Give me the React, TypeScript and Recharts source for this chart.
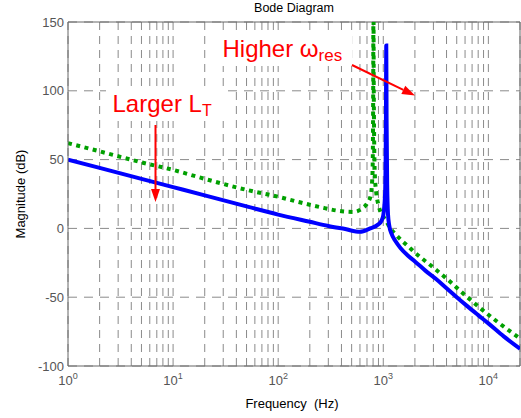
import React from 'react';
import { LineChart, Line, XAxis, YAxis, CartesianGrid, ReferenceLine } from 'recharts';

// frequency axis: decades get a 10^n label, every multiple gets a grid line
const decades = [1, 10, 100, 1000, 10000];
const fMax = 20000;
const gridFreqs = decades
  .flatMap((d) => [1, 2, 3, 4, 5, 6, 7, 8, 9].map((m) => m * d))
  .filter((f) => f <= fMax);

const magTicks = [-100, -50, 0, 50, 100, 150];

// smaller L_T (solid blue)
const blueFreq = [1, 2, 5, 10, 20, 50, 100, 200, 300, 435, 600, 750, 900, 960, 1000, 1040, 1060, 1068, 1075, 1090, 1110, 1140, 1200, 1300, 1450, 1700, 2000, 2500, 3200, 4000, 5000, 6300, 8000, 10000, 14000, 20000];
const blueMag = [50, 44, 36, 30, 24, 16, 10, 4.8, 1.8, -0.5, -2.5, 0, 3, 5.5, 9.5, 25, 80, 133, 80, 30, 10, 2, -4, -9, -14, -19.5, -24, -30.5, -37, -43.5, -50, -56.5, -63, -69, -78.5, -87.5];

// larger L_T (dotted green), resonance runs off the top
const greenFreq = [1, 2, 5, 10, 20, 50, 100, 160, 250, 400, 520, 630, 700, 760, 790, 802, 806, 812, 830, 860, 896, 955, 1045, 1166, 1300, 1480, 1700, 1930, 3000, 4074, 6000, 8393, 12000, 20000];
const greenMag = [62, 56, 48, 42.5, 36, 28, 23, 19, 15.5, 12.5, 12, 14.5, 18, 24, 40, 100, 175, 100, 40, 25, 17.5, 11, 6.5, 0, -4, -8.5, -12.5, -16.5, -28.5, -37, -48.5, -58, -67.5, -80];

const blueData = blueFreq.map((f, i) => ({ f, mag: blueMag[i] }));
const greenData = greenFreq.map((f, i) => ({ f, mag: greenMag[i] }));

const FONT = '"Liberation Sans", Arial, Helvetica, sans-serif';
const GRID = '#8a8a8a';
const AXIS = '#666';

function DecadeTick(props: any) {
  const { x, y, payload } = props;
  const v = payload.value;
  const n = Math.round(Math.log10(v));
  if (Math.abs(Math.pow(10, n) - v) > 1e-6) return null;
  return (
    <text x={x} y={y + 19} textAnchor="middle" fill="#555" fontSize={13} fontFamily={FONT}>
      <tspan>10</tspan>
      <tspan dy={-6} fontSize={9}>{n}</tspan>
    </text>
  );
}

function Arrow({ x1, y1, x2, y2 }: { x1: number; y1: number; x2: number; y2: number }) {
  const dx = x2 - x1;
  const dy = y2 - y1;
  const len = Math.hypot(dx, dy);
  const ux = dx / len;
  const uy = dy / len;
  const head = 13;
  const half = 4.5;
  const bx = x2 - ux * head;
  const by = y2 - uy * head;
  return (
    <g>
      <line x1={x1} y1={y1} x2={bx} y2={by} stroke="#ff0000" strokeWidth={2} />
      <polygon
        points={`${x2},${y2} ${bx - uy * half},${by + ux * half} ${bx + uy * half},${by - ux * half}`}
        fill="#ff0000"
      />
    </g>
  );
}

export default function App() {
  return (
    <div style={{ position: 'absolute', left: 0, top: 0, width: 521, height: 418, background: '#fff' }}>
      <LineChart width={521} height={418} margin={{ top: 22, right: 1, bottom: 0, left: 0 }}>
        <CartesianGrid stroke={GRID} strokeDasharray="8 6" horizontal={false} />
        <CartesianGrid stroke={GRID} strokeDasharray="9 7" vertical={false} />
        <XAxis
          type="number"
          dataKey="f"
          scale="log"
          domain={[1, fMax]}
          allowDataOverflow
          ticks={gridFreqs}
          interval={0}
          height={52}
          tick={<DecadeTick />}
          tickLine={false}
          tickSize={0}
          tickMargin={0}
          axisLine={{ stroke: AXIS }}
        />
        <YAxis
          type="number"
          domain={[-100, 150]}
          allowDataOverflow
          ticks={magTicks}
          interval={0}
          width={68}
          tickLine={false}
          tickSize={4}
          tickMargin={0}
          axisLine={{ stroke: AXIS }}
          tick={{ fill: '#555', fontSize: 13, fontFamily: FONT }}
        />
        <ReferenceLine y={150} stroke={AXIS} />
        <ReferenceLine x={fMax} stroke={AXIS} />
        <Line
          data={greenData}
          dataKey="mag"
          type="monotone"
          stroke="#00a000"
          strokeWidth={4}
          strokeDasharray="4 4.5"
          dot={false}
          isAnimationActive={false}
        />
        <Line
          data={blueData}
          dataKey="mag"
          type="monotone"
          stroke="#0000ff"
          strokeWidth={4}
          dot={false}
          isAnimationActive={false}
        />
      </LineChart>
      <svg
        width={521}
        height={418}
        style={{ position: 'absolute', left: 0, top: 0, pointerEvents: 'none' }}
        fontFamily={FONT}
      >
        <text x={294} y={12} textAnchor="middle" fontSize={12.5} fill="#000">Bode Diagram</text>
        <text transform="translate(25,194) rotate(-90)" textAnchor="middle" fontSize={13} fill="#000">
          Magnitude (dB)
        </text>
        <text x={292} y={408} textAnchor="middle" fontSize={13} fill="#000" style={{ whiteSpace: 'pre' }}>
          {'Frequency  (Hz)'}
        </text>

        <rect x={218} y={33} width={134} height={33} fill="#fff" />
        <text x={222.5} y={56.5} fontSize={24} fill="#ff0000">
          Higher ω<tspan fontSize={17} dy={4}>res</tspan>
        </text>
        <Arrow x1={352} y1={65} x2={415} y2={95.5} />

        <rect x={106} y={89} width={118} height={32} fill="#fff" />
        <text x={112.5} y={112.3} fontSize={24} fill="#ff0000">
          Larger L<tspan fontSize={16} dy={3.5}>T</tspan>
        </text>
        <Arrow x1={155.5} y1={125} x2={155.5} y2={202} />
      </svg>
    </div>
  );
}
